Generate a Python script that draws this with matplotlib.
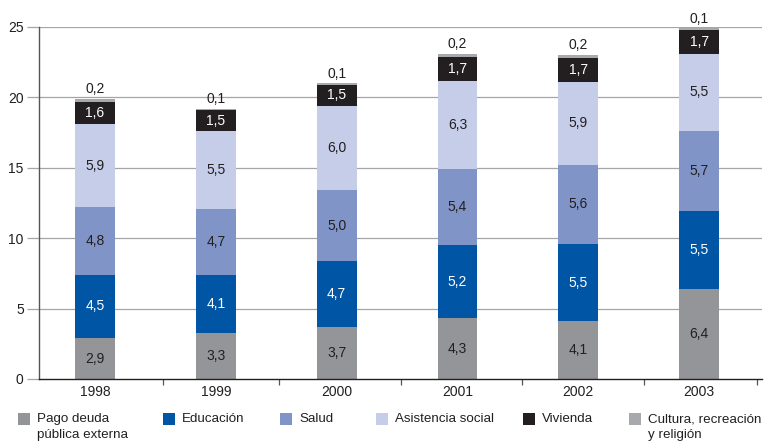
import matplotlib
matplotlib.use("Agg")
import matplotlib.pyplot as plt
from matplotlib.patches import Rectangle
import numpy as np

plt.rcParams['font.family'] = ['Liberation Sans Narrow', 'Liberation Sans', 'DejaVu Sans']

years = ["1998", "1999", "2000", "2001", "2002", "2003"]
series_names = ["Pago deuda\npública externa", "Educación", "Salud",
                "Asistencia social", "Vivienda", "Cultura, recreación\ny religión"]
pago = [2.9, 3.3, 3.7, 4.3, 4.1, 6.4]
educacion = [4.5, 4.1, 4.7, 5.2, 5.5, 5.5]
salud = [4.8, 4.7, 5.0, 5.4, 5.6, 5.7]
asistencia = [5.9, 5.5, 6.0, 6.3, 5.9, 5.5]
vivienda = [1.6, 1.5, 1.5, 1.7, 1.7, 1.7]
cultura = [0.2, 0.1, 0.1, 0.2, 0.2, 0.1]
yticks = [0, 5, 10, 15, 20, 25]

series = [pago, educacion, salud, asistencia, vivienda, cultura]
colors = ["#939598", "#0055a5", "#8094c8", "#c5cde8", "#231f20", "#a7a9ac"]
text_colors = ["#231f20", "white", "#231f20", "#231f20", "white", "#231f20"]

W, H = 782, 446
fig = plt.figure(figsize=(W / 100, H / 100), dpi=100)
ax = fig.add_axes([39 / W, (H - 379) / H, (762 - 39) / W, (379 - 27) / H])

FS = 10
x = np.arange(len(years))
width = 0.33
bottom = np.zeros(len(years))
for i, (vals, c) in enumerate(zip(series, colors)):
    vals = np.array(vals)
    ax.bar(x, vals, width, bottom=bottom, color=c, zorder=3, linewidth=0)
    for xi, b, v in zip(x, bottom, vals):
        if i == len(series) - 1:
            ax.text(xi, b + v + 0.2, f"{v:.1f}".replace(".", ","), ha="center", va="bottom",
                    fontsize=FS, color="#231f20", zorder=4, clip_on=False)
        else:
            ax.text(xi, b + v / 2, f"{v:.1f}".replace(".", ","), ha="center", va="center",
                    fontsize=FS, color=text_colors[i], zorder=4)
    bottom += vals

ax.set_xlim(-0.464, 5.52)
ax.set_ylim(0, 25)
ax.set_yticks(yticks)
ax.set_yticklabels([str(t) for t in yticks], fontsize=FS, color="#231f20")
for t in yticks[1:]:
    ax.axhline(t, color="#a6a6a6", linewidth=0.9, zorder=1)
ax.tick_params(axis="y", length=9, color="#a6a6a6", width=0.9, pad=2)

ax.set_xticks(x)
ax.set_xticklabels(years, fontsize=FS, color="#231f20")
ax.tick_params(axis="x", length=0, pad=4)
ax.set_xticks([0.56, 1.52, 2.53, 3.53, 4.54, 5.48], minor=True)
ax.tick_params(axis="x", which="minor", length=4, color="#555555", width=0.9)

for s in ["top", "right"]:
    ax.spines[s].set_visible(False)
ax.spines["left"].set_color("#555555")
ax.spines["left"].set_linewidth(1.0)
ax.spines["bottom"].set_color("#231f20")
ax.spines["bottom"].set_linewidth(1.0)
ax.spines["bottom"].set_zorder(5)

# legend
leg_sq = [18, 163, 280, 376, 523, 629]
for lx, name, c in zip(leg_sq, series_names, colors):
    fig.add_artist(Rectangle((lx / W, (H - 425) / H), 12 / W, 12 / H,
                             transform=fig.transFigure, color=c, linewidth=0))
    fig.text((lx + 19) / W, (H - 413) / H, name, ha="left", va="top",
             fontsize=9.6, color="#231f20", linespacing=1.4)

fig.savefig("out.png", dpi=100)
